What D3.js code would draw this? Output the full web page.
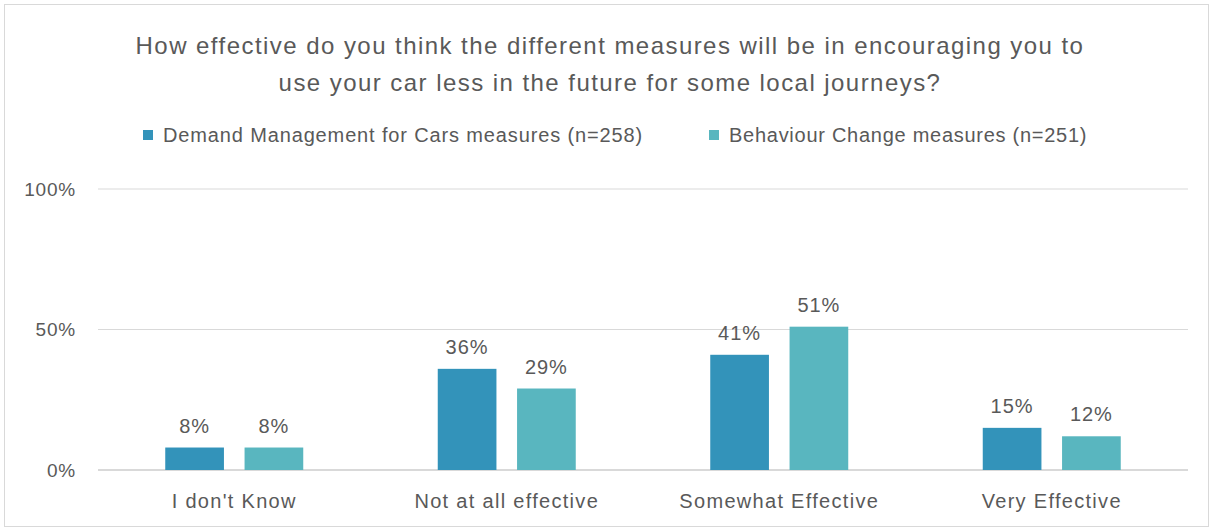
<!DOCTYPE html>
<html><head><meta charset="utf-8">
<script src="https://cdn.jsdelivr.net/npm/d3@7"></script>
<style>body{margin:0;background:#fff}svg{display:block}text{font-family:"Liberation Sans",Arial,sans-serif;fill:#595959}</style>
</head><body><svg id="c" width="1213" height="530"></svg>
<script>
const categories = ["I don't Know", "Not at all effective", "Somewhat Effective", "Very Effective"];
const seriesNames = ["Demand Management for Cars measures (n=258)", "Behaviour Change measures (n=251)"];
const demandValues = [8, 36, 41, 15];
const behaviourValues = [8, 29, 51, 12];
const tickValues = [0, 50, 100];
const colors = ["#3393BA", "#59B6BF"];
const titleLines = ["How effective do you think the different measures will be in encouraging you to", "use your car less in the future for some local journeys?"];

const svg = d3.select("#c");
svg.append("rect").attr("x",4.5).attr("y",4.5).attr("width",1204).attr("height",522).attr("fill","#fff").attr("stroke","#d9d9d9");

const m = {left:98, right:1188, top:189, bottom:470};
const x0 = d3.scaleBand().domain(categories).range([m.left, m.right]);
const x1 = d3.scaleBand().domain([0,1]).range([0,138]).paddingInner(0.26);
const y = d3.scaleLinear().domain([0,100]).range([m.bottom, m.top]);

svg.selectAll(".grid").data(tickValues).join("line")
  .attr("x1",m.left).attr("x2",m.right).attr("y1",d=>y(d)).attr("y2",d=>y(d))
  .attr("stroke","#d9d9d9").attr("stroke-width",d=>d===0?2:1);

const yAxis = d3.axisLeft(y).tickValues(tickValues).tickFormat(d=>d+"%").tickSize(0).tickPadding(22);
const ya = svg.append("g").attr("transform",`translate(${m.left},0)`).call(yAxis);
ya.select(".domain").remove();
ya.selectAll("text").style("font-size","19px").attr("fill","#595959").style("font-family","Liberation Sans, Arial, sans-serif").style("letter-spacing","0.8px");

const xAxis = d3.axisBottom(x0).tickSize(0).tickPadding(24);
const xa = svg.append("g").attr("transform",`translate(0,${m.bottom})`).call(xAxis);
xa.select(".domain").remove();
xa.selectAll("text").style("font-size","20px").attr("fill","#595959").style("font-family","Liberation Sans, Arial, sans-serif").style("letter-spacing","1.3px");

const series = [demandValues, behaviourValues];
series.forEach((vals, si) => {
  const g = svg.append("g");
  categories.forEach((c, ci) => {
    const bx = x0(c) + (x0.bandwidth()-138)/2 + x1(si);
    g.append("rect").attr("x",bx).attr("y",y(vals[ci])).attr("width",x1.bandwidth())
      .attr("height",y(0)-y(vals[ci])).attr("fill",colors[si]);
    g.append("text").attr("x",bx+x1.bandwidth()/2).attr("y",y(vals[ci])-15)
      .attr("text-anchor","middle").style("font-size","20px").style("letter-spacing","1px").text(vals[ci]+"%");
  });
});

svg.selectAll(".title").data(titleLines).join("text")
  .attr("x",610).attr("y",(d,i)=>54+i*37).attr("text-anchor","middle")
  .style("font-size","24px").style("letter-spacing","1.45px").text(d=>d);

const leg = [{x:143,tx:163},{x:709,tx:729}];
seriesNames.forEach((n,i)=>{
  svg.append("rect").attr("x",leg[i].x).attr("y",130).attr("width",10).attr("height",10).attr("fill",colors[i]);
  svg.append("text").attr("x",leg[i].tx).attr("y",142).style("font-size","20px").style("letter-spacing",(i===0?0.86:0.73)+"px").text(n);
});
</script></body></html>
